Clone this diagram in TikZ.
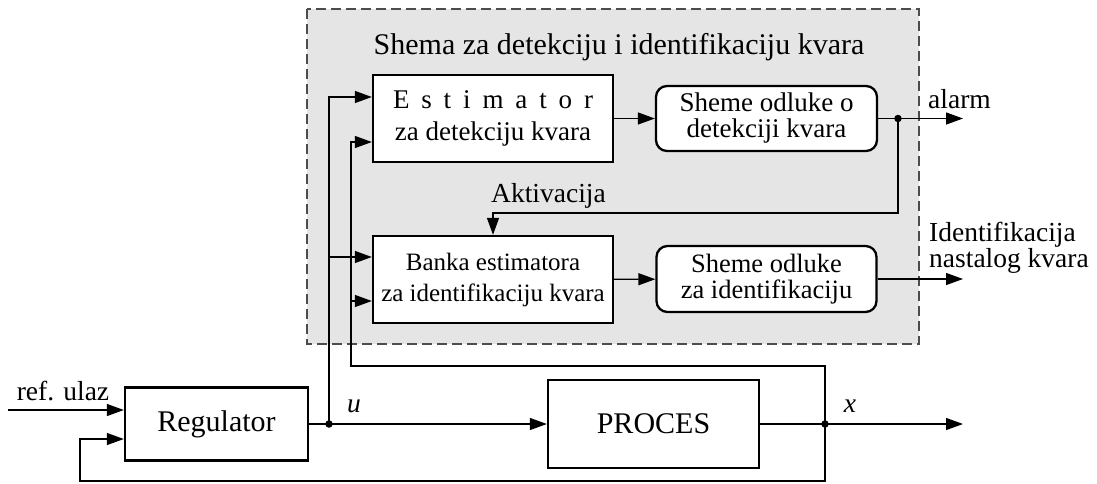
\documentclass[tikz,border=0pt]{standalone}
\usepackage{fontspec}
\setmainfont{Liberation Serif}
\usetikzlibrary{arrows.meta,calc}
\begin{document}
\begin{tikzpicture}[x=1pt,y=-1pt,
  every node/.style={font=\fontsize{27.5}{30}\selectfont, inner sep=0pt},
  blk/.style={draw, line width=2.3pt, fill=white, align=center},
  rblk/.style={blk, rounded corners=11pt},
  conn/.style={line width=1.3pt},
  arr/.style={conn, -{Triangle[length=17pt,width=12pt]}},
  jdot/.style={circle, fill, minimum size=7.5pt, inner sep=0pt},
  frame/.style={dash pattern=on 10pt off 5pt, line width=1.4pt, draw=black!70, fill=black!10}
]
\useasboundingbox (0,0) rectangle (1097,483);
\draw[frame] (307,9) rectangle (919,344);

% title
\node[font=\fontsize{30}{32}\selectfont] (ttl) at (619,47) {Shema za detekciju i identifikaciju kvara};

% blocks
\node[blk, minimum width=240pt, minimum height=87pt, font=\fontsize{27}{32}\selectfont] (est) at (493,118.5)
  {\makebox[200pt][s]{E s t i m a t o r}\\za detekciju kvara};
\node[rblk, minimum width=221pt, minimum height=65pt, font=\fontsize{27}{26}\selectfont] (shd) at (766.5,118.5)
  {Sheme odluke o\\detekciji kvara};
\node[blk, minimum width=240pt, minimum height=87pt, font=\fontsize{25}{31}\selectfont] (ban) at (493,279.5)
  {Banka estimatora\\za identifikaciju kvara};
\node[rblk, minimum width=220pt, minimum height=66pt, font=\fontsize{26.5}{26}\selectfont] (shi) at (766.5,279)
  {Sheme odluke\\za identifikaciju};
\node[blk, minimum width=183pt, minimum height=73pt, font=\fontsize{30}{32}\selectfont] (reg) at (216.5,424) {Regulator};
\node[blk, minimum width=211pt, minimum height=88pt, font=\fontsize{30}{32}\selectfont] (proc) at (653.5,424) {PROCES};

% junctions and coordinates
\node[jdot] (u) at (329,424) {};
\node[jdot] (xj) at (825,424) {};
\node[jdot] (aj) at (898,118.5) {};
\coordinate (ut) at (329,97);
\coordinate (ub) at (329,257);
\coordinate (vt) at (351,366);
\coordinate (xt) at (825,366);
\coordinate (ve) at (351,142);
\coordinate (vb) at (351,301);
\coordinate (xb) at (825,481);
\coordinate (fb) at (80,439);
\coordinate (refin) at (8,410);
\coordinate (ak) at (0,213);
\coordinate (alarmEnd) at (963,118.5);
\coordinate (idEnd) at (963,279);
\coordinate (xEnd) at (963,424);

% connectors
\draw[arr] (est) -- (shd);
\draw[arr] (ban) -- (shi);
\draw[arr] (shd.east) -- (alarmEnd);
\draw[arr] (aj.center) |- (ban.north |- ak) -- (ban.north);
\draw[arr] (shi.east) -- (idEnd);
\draw[arr] (refin) -- (reg.west |- refin);
\draw[conn] (reg.east) -- (u.center);
\draw[arr] (u.center) -- (proc.west);
\draw[conn] (proc.east) -- (xj.center);
\draw[arr] (xj.center) -- (xEnd);
\draw[arr] (u.center) |- (est.west |- ut);
\draw[arr] (ub) -- (ban.west |- ub);
\draw[arr] (xj.center) -- (xt) -- (vt) |- (est.west |- ve);
\draw[arr] (vb) -- (ban.west |- vb);
\draw[arr] (xj.center) -- (xb) -| (fb) -- (reg.west |- fb);

% labels
\node (ul) at (354,406) {\textit{u}};
\node (xl) at (850,406) {\textit{x}};
\node[anchor=west] (alm) at (928,99) {alarm};
\node[anchor=west, align=left, font=\fontsize{27.5}{23}\selectfont] (idl) at (929,248) {Identifikacija\\nastalog kvara};
\node[anchor=west] (akl) at (491,196) {Aktivacija};
\node (refl) at (63,391) {ref. ulaz};
\end{tikzpicture}
\end{document}
